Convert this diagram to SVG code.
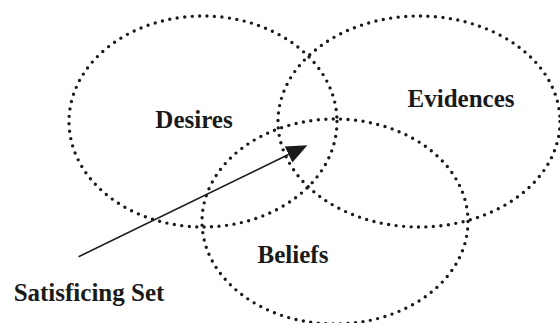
<svg xmlns="http://www.w3.org/2000/svg" width="560" height="323" viewBox="0 0 560 323">
<style>
.set{fill:none;stroke:#1a1a1a;stroke-width:3.4;stroke-linecap:round;stroke-dasharray:0 7.5}
.lbl{font-family:"Liberation Serif","Times New Roman","DejaVu Serif",serif;font-weight:bold;font-size:25px;fill:#1a1a1a}
.arrow{stroke:#1a1a1a;stroke-width:1.6;fill:none}
</style>
<defs>
<marker id="head" markerUnits="userSpaceOnUse" markerWidth="24" markerHeight="22" refX="0" refY="0" viewBox="0 -11 24 22" orient="auto">
<path d="M0,-9 L21,0 L0,9 z" fill="#1a1a1a"/>
</marker>
</defs>
<rect width="560" height="323" fill="#fff"/>
<g id="desires">
<ellipse class="set" cx="203" cy="121.5" rx="134" ry="105.5"/>
<text class="lbl" x="194" y="127.5" text-anchor="middle">Desires</text>
</g>
<g id="evidences">
<ellipse class="set" cx="419" cy="121.5" rx="141" ry="105.5"/>
<text class="lbl" x="461" y="107" text-anchor="middle">Evidences</text>
</g>
<g id="beliefs">
<ellipse class="set" cx="335" cy="221.5" rx="133" ry="102.5"/>
<text class="lbl" x="293" y="262.5" text-anchor="middle">Beliefs</text>
</g>
<g id="satisficing">
<text class="lbl" x="89" y="300.5" text-anchor="middle">Satisficing Set</text>
</g>
<g id="connectors">
<line class="arrow" x1="78.6" y1="256.7" x2="288.5" y2="154.5" marker-end="url(#head)"/>
</g>
</svg>
